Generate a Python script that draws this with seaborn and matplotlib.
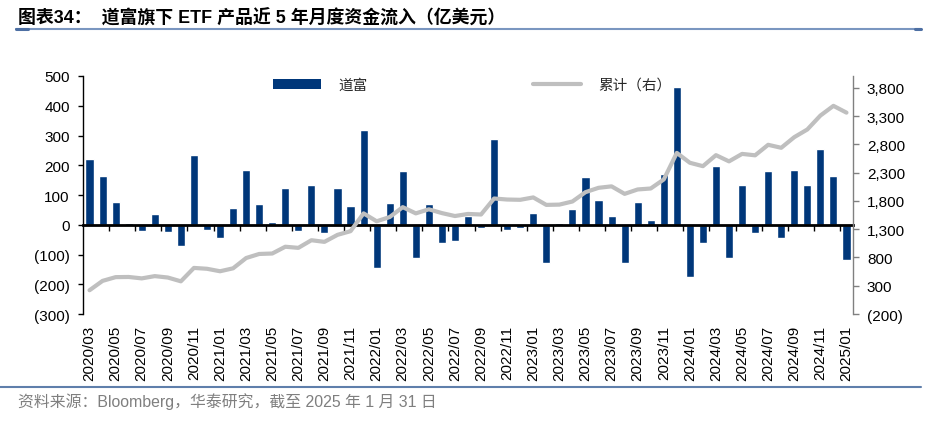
import numpy as np
import pandas as pd
import seaborn as sns
import matplotlib.pyplot as plt
from matplotlib.lines import Line2D
from matplotlib.patches import Patch
from matplotlib.ticker import FuncFormatter

# 2020/03 .. 2025/01, monthly
months = pd.period_range("2020-03", "2025-01", freq="M").strftime("%Y/%m").tolist()

# monthly net flow, 亿美元 (left axis)
flows = [220, 165, 76, 5, -22, 37, -26, -70, 236, -19,
         -46, 57, 185, 71, 10, 125, -22, 135, -28, 124,
         62, 320, -144, 74, 181, -111, 70, -63, -56, 29,
         -11, 287, -19, -11, 40, -129, 7, 53, 162, 83,
         30, -129, 78, 17, 172, 462, -174, -62, 196, -113,
         135, -28, 182, -46, 185, 135, 253, 164, -120]

# cumulative flow (right axis)
cumulative = [220, 386, 452, 455, 430, 470, 445, 378, 615, 600,
              556, 608, 790, 862, 870, 990, 970, 1105, 1076, 1200,
              1265, 1580, 1440, 1515, 1690, 1580, 1652, 1585, 1533, 1570,
              1560, 1843, 1825, 1820, 1862, 1730, 1735, 1790, 1955, 2032,
              2058, 1925, 2003, 2020, 2180, 2650, 2475, 2415, 2610, 2500,
              2632, 2607, 2793, 2740, 2928, 3064, 3310, 3482, 3362]

left_ticks = list(range(-300, 501, 100))
right_ticks = list(range(-200, 3801, 500))

NAVY = "#00377a"
GRAY = "#bfbfbf"

df = pd.DataFrame({"month": months, "flow": flows, "cum": cumulative})
df["pos"] = np.arange(len(df))

sns.set_style("white")
plt.rcParams["font.family"] = ["Liberation Sans", "Noto Sans CJK SC"]
plt.rcParams["axes.unicode_minus"] = False

W, H = 939, 427
fig = plt.figure(figsize=(W / 100, H / 100), dpi=100)
ax = fig.add_axes([83 / W, 1 - 315 / H, (853 - 83) / W, (315 - 77) / H])

sns.barplot(data=df, x="month", y="flow", color=NAVY, saturation=1,
            width=0.62, ax=ax)

ax2 = ax.twinx()
sns.lineplot(data=df, x="pos", y="cum", color=GRAY, lw=3, ax=ax2)


def paren(v, p):
    return f"({abs(v):,.0f})" if v < 0 else f"{v:,.0f}"


# left axis; the bottom spine is moved up to y=0 and acts as the zero line
ax.set_ylim(-300, 500)
ax.set_yticks(left_ticks)
ax.yaxis.set_major_formatter(FuncFormatter(paren))
ax.tick_params(axis="y", direction="out", length=3.6, width=1, color="black",
               pad=6, labelsize=11, labelcolor="black", left=True)
ax.set_xlim(-0.5, len(df) - 0.5)
ax.set_xticks(np.arange(1.5, len(df) - 1, 2))
ax.tick_params(axis="x", direction="out", length=4, width=1, color="black",
               labelbottom=False, bottom=True)
ax.set_xlabel("")
ax.set_ylabel("")
for s in ["top", "right"]:
    ax.spines[s].set_visible(False)
ax.spines["bottom"].set_visible(True)
ax.spines["bottom"].set_position(("data", 0))
ax.spines["bottom"].set_color("#000000")
ax.spines["bottom"].set_linewidth(2)
ax.spines["bottom"].set_zorder(4)
ax.spines["left"].set_color("black")
ax.spines["left"].set_linewidth(1)

# right axis
ax2.set_ylim(-200, 4010)
ax2.set_yticks(right_ticks)
ax2.yaxis.set_major_formatter(FuncFormatter(paren))
ax2.tick_params(axis="y", direction="out", length=4.5, width=1, color="#808080",
                pad=5.5, labelsize=11, labelcolor="black", right=True)
ax2.set_xlabel("")
ax2.set_ylabel("")
for s in ["top", "left", "bottom"]:
    ax2.spines[s].set_visible(False)
ax2.spines["right"].set_color("#808080")
ax2.spines["right"].set_linewidth(1)

# month labels along the bottom edge of the plot
lab = ax.secondary_xaxis("bottom")
lab.set_xticks(range(0, len(df), 2), labels=months[::2], rotation=90)
lab.tick_params(axis="x", length=0, pad=8, labelsize=11, labelcolor="black")
lab.spines["bottom"].set_visible(False)

# legend
handles = [Patch(facecolor=NAVY, edgecolor="none"),
           Line2D([], [], color=GRAY, lw=3)]
fig.legend(handles, ["道富", "累计（右）"], loc="upper left",
           bbox_to_anchor=(273 / W, 1 - 79 / H), bbox_transform=fig.transFigure,
           ncol=2, frameon=False, fontsize=10.5, handlelength=3.3,
           handleheight=0.75, handletextpad=1.2, columnspacing=11.3,
           borderpad=0, borderaxespad=0)

# title, rules, source
fig.text(18 / W, 1 - 18.5 / H, "图表34：  道富旗下 ETF 产品近 5 年月度资金流入（亿美元）",
         fontsize=12.9, fontweight="bold", va="center", ha="left", color="black")
fig.add_artist(Line2D([16 / W, 921 / W], [1 - 30 / H] * 2, color="#7a96c0",
                      lw=1.5, transform=fig.transFigure))
fig.add_artist(Line2D([16 / W, 28 / W], [1 - 30 / H] * 2, color="#4d6fa3",
                      lw=2.2, transform=fig.transFigure))
fig.add_artist(Line2D([915 / W, 921 / W], [1 - 30 / H] * 2, color="#4d6fa3",
                      lw=2.2, transform=fig.transFigure))
fig.add_artist(Line2D([0, 921 / W], [1 - 388 / H] * 2, color="#5f7fab",
                      lw=1.5, transform=fig.transFigure))
fig.text(18 / W, 1 - 402 / H, "资料来源：Bloomberg，华泰研究，截至 2025 年 1 月 31 日",
         fontsize=11.4, va="center", ha="left", color="#7f7f7f")

fig.savefig("out.png", dpi=100)
